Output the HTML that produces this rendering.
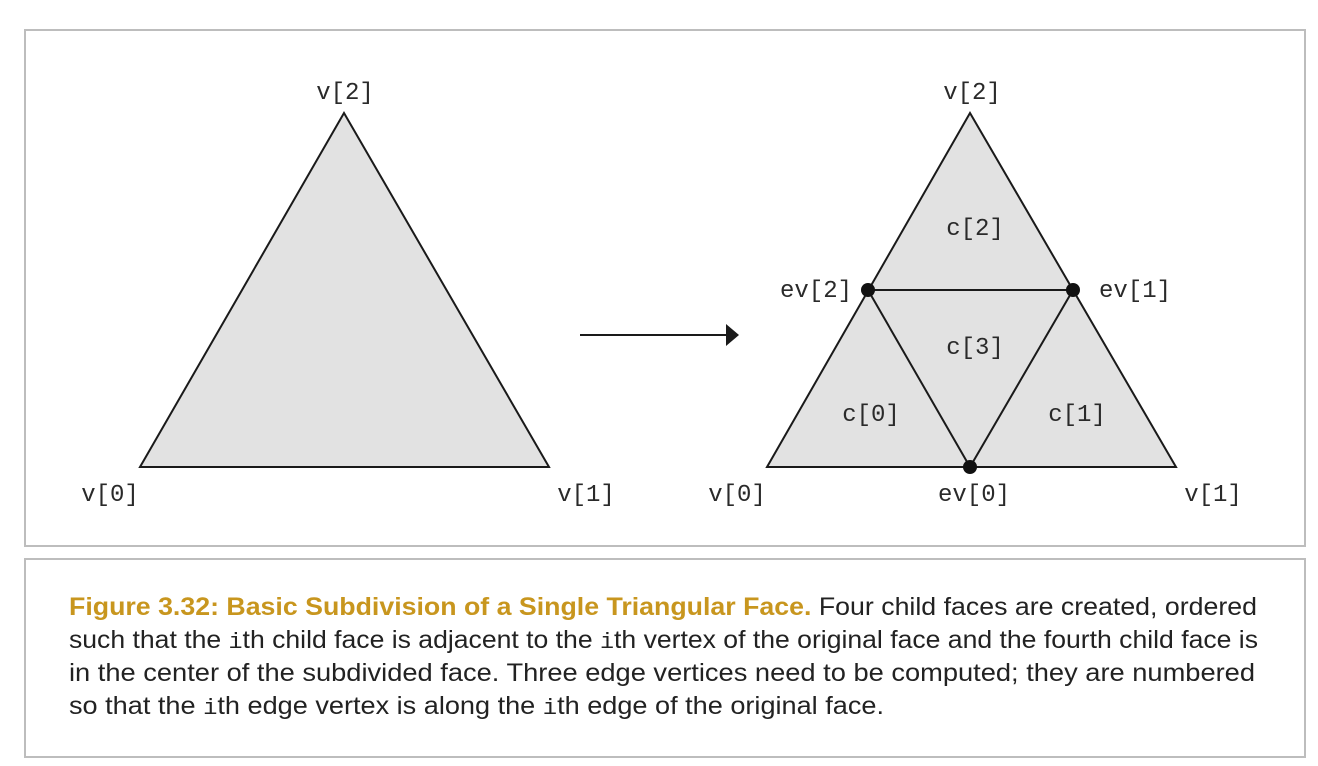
<!DOCTYPE html>
<html><head><meta charset="utf-8"><style>
body{margin:0;width:1318px;height:766px;background:#fff;position:relative;overflow:hidden;font-family:"Liberation Sans",sans-serif}
.box{position:absolute;border:2px solid #bdbdbd;box-sizing:border-box}
svg text.lbl{font-family:"Liberation Mono",monospace;font-size:24px;fill:#2a2a2a}
svg text.cap{font-family:"Liberation Sans",sans-serif;font-size:25px;fill:#222}
svg text.cap .b{fill:#c8961e;font-weight:bold}
svg text.cap .m{font-family:"Liberation Mono",monospace;font-size:22px}
</style></head><body>
<div class="box" style="left:24px;top:29px;width:1282px;height:518px"></div>
<div class="box" style="left:24px;top:558px;width:1282px;height:200px"></div>
<svg width="1318" height="766" style="position:absolute;left:0;top:0">
<g stroke="#1a1a1a" stroke-width="2" fill="#e2e2e2">
<polygon points="140,467 549,467 344,113"/>
<polygon points="767,467 1176,467 970,113"/>
<polyline fill="none" points="868,290 1073,290 970,467 868,290"/>
<line x1="580" y1="335" x2="728" y2="335"/>
</g>
<polygon points="726,324 739,335 726,346" fill="#1a1a1a"/>
<g fill="#111">
<circle cx="970" cy="467" r="7"/>
<circle cx="1073" cy="290" r="7"/>
<circle cx="868" cy="290" r="7"/>
</g>
<g text-anchor="middle">
<text class="lbl" x="345" y="99">v[2]</text>
<text class="lbl" x="110" y="501">v[0]</text>
<text class="lbl" x="586" y="501">v[1]</text>
<text class="lbl" x="972" y="99">v[2]</text>
<text class="lbl" x="737" y="501">v[0]</text>
<text class="lbl" x="1213" y="501">v[1]</text>
<text class="lbl" x="974" y="501">ev[0]</text>
<text class="lbl" x="1135" y="297">ev[1]</text>
<text class="lbl" x="816" y="297">ev[2]</text>
<text class="lbl" x="975" y="235">c[2]</text>
<text class="lbl" x="975" y="354">c[3]</text>
<text class="lbl" x="871" y="421">c[0]</text>
<text class="lbl" x="1077" y="421">c[1]</text>
</g>
<g>
<text class="cap" x="69" y="615" textLength="1188" lengthAdjust="spacingAndGlyphs"><tspan class="b">Figure 3.32: Basic Subdivision of a Single Triangular Face.</tspan> Four child faces are created, ordered</text>
<text class="cap" x="69" y="648" textLength="1189" lengthAdjust="spacingAndGlyphs">such that the <tspan class="m">i</tspan>th child face is adjacent to the <tspan class="m">i</tspan>th vertex of the original face and the fourth child face is</text>
<text class="cap" x="69" y="681" textLength="1186" lengthAdjust="spacingAndGlyphs">in the center of the subdivided face. Three edge vertices need to be computed; they are numbered</text>
<text class="cap" x="69" y="714" textLength="815" lengthAdjust="spacingAndGlyphs">so that the <tspan class="m">i</tspan>th edge vertex is along the <tspan class="m">i</tspan>th edge of the original face.</text>
</g>
</svg>
</body></html>
